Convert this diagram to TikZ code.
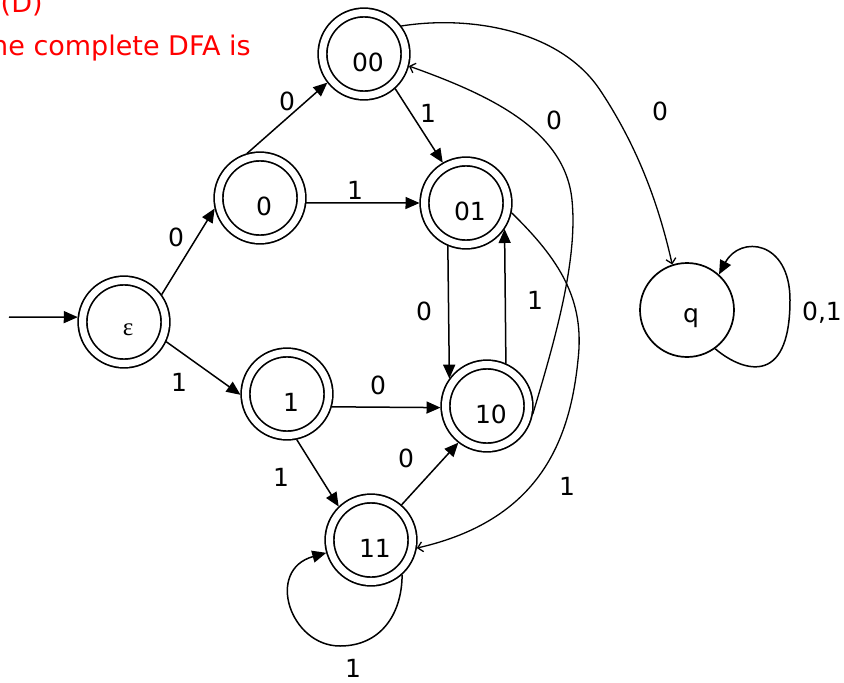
\documentclass[tikz,border=0pt]{standalone}
\usepackage{fontspec}
\setmainfont{DejaVu Sans}
\newfontfamily\epsfont{Liberation Serif}
\usetikzlibrary{arrows.meta}

\begin{document}
\begin{tikzpicture}[x=1pt, y=-1pt, line width=1.5pt,
  every node/.style={font=\fontsize{25}{30}\selectfont},
  acc/.style={circle, draw, double, double distance=7pt, line width=1.7pt, minimum size=83pt, inner sep=0pt, outer sep=5pt},
  rej/.style={circle, draw, line width=1.7pt, minimum size=94pt, inner sep=0pt},
  txt/.style={label={[xshift=4pt, yshift=-8pt]center:{#1}}},
  red/.style={anchor=base west, inner sep=0pt, text=red, font=\fontsize{27}{32}\selectfont},
  fil/.style={-{Triangle[length=14pt, width=12pt]}},
  opn/.style={-{Straight Barb[length=5pt, width=10pt]}, line width=1.3pt}]
\useasboundingbox (0,0) rectangle (844,683);
\node[red] (ans) at (0,12) {(D)};
\node[red] (head) at (-26,55) {The complete DFA is};
% states
\node[acc, txt={\epsfont ε}] (eps) at (124,322) {};
\node[acc, txt=0] (n0) at (260,198) {};
\node[acc, txt=1] (n1) at (287,394) {};
\node[acc, txt=00] (n00) at (364,54) {};
\node[acc, txt=01] (n01) at (466,203) {};
\node[acc, txt=10] (n10) at (487,406) {};
\node[acc, txt=11] (n11) at (371,540) {};
\node[rej, txt=q] (q) at (687,310) {};
\coordinate (start) at (9,317);
% transitions
\draw[fil] (start) -- (eps.174);
\draw[fil] (eps.36) -- (n0.193);
\draw[fil] (eps.335) -- (n1.181);
\draw[fil] (n0.106) -- (n00.218);
\draw[fil] (n0.354) -- (n01.180);
\draw[fil] (n00.312) -- (n01.120);
\draw[fil] (n01.247) -- (n10.144);
\draw[fil] (n10.66) -- (n01.326);
\draw[fil] (n1.344) -- (n10.182);
\draw[fil] (n1.282) -- (n11.134);
\draw[fil] (n11.49) -- (n10.232);
\draw[fil] (n11.312) .. controls (402,615) and (380,646) .. (340,646)
  .. controls (290,646) and (265,570) .. (n11.196);
\draw[opn] (n10.350) .. controls (555,340) and (578,260) .. (572,200)
  .. controls (565,130) and (490,95) .. (n00.345);
\draw[opn] (n01.348) .. controls (560,260) and (585,300) .. (578,360)
  .. controls (570,440) and (540,520) .. (n11.350);
\draw[opn] (n00.37) .. controls (470,15) and (560,30) .. (600,90)
  .. controls (640,150) and (660,210) .. (q.108);
\draw[fil] (q.306) .. controls (740,370) and (790,390) .. (790,300)
  .. controls (790,240) and (740,235) .. (q.48);
% labels
\foreach \x/\y/\t [count=\i] in {176/237/0, 179/382/1, 287/101/0, 355/190/1,
  428/113/1, 424/311/0, 535/300/1, 378/385/0, 281/477/1, 406/458/0,
  353/668/1, 554/120/0, 567/486/1, 660/111/0, 822/313/{0,1}} {
  \node[inner sep=0pt] (lab\i) at (\x,\y) {\t};
}
\end{tikzpicture}
\end{document}
